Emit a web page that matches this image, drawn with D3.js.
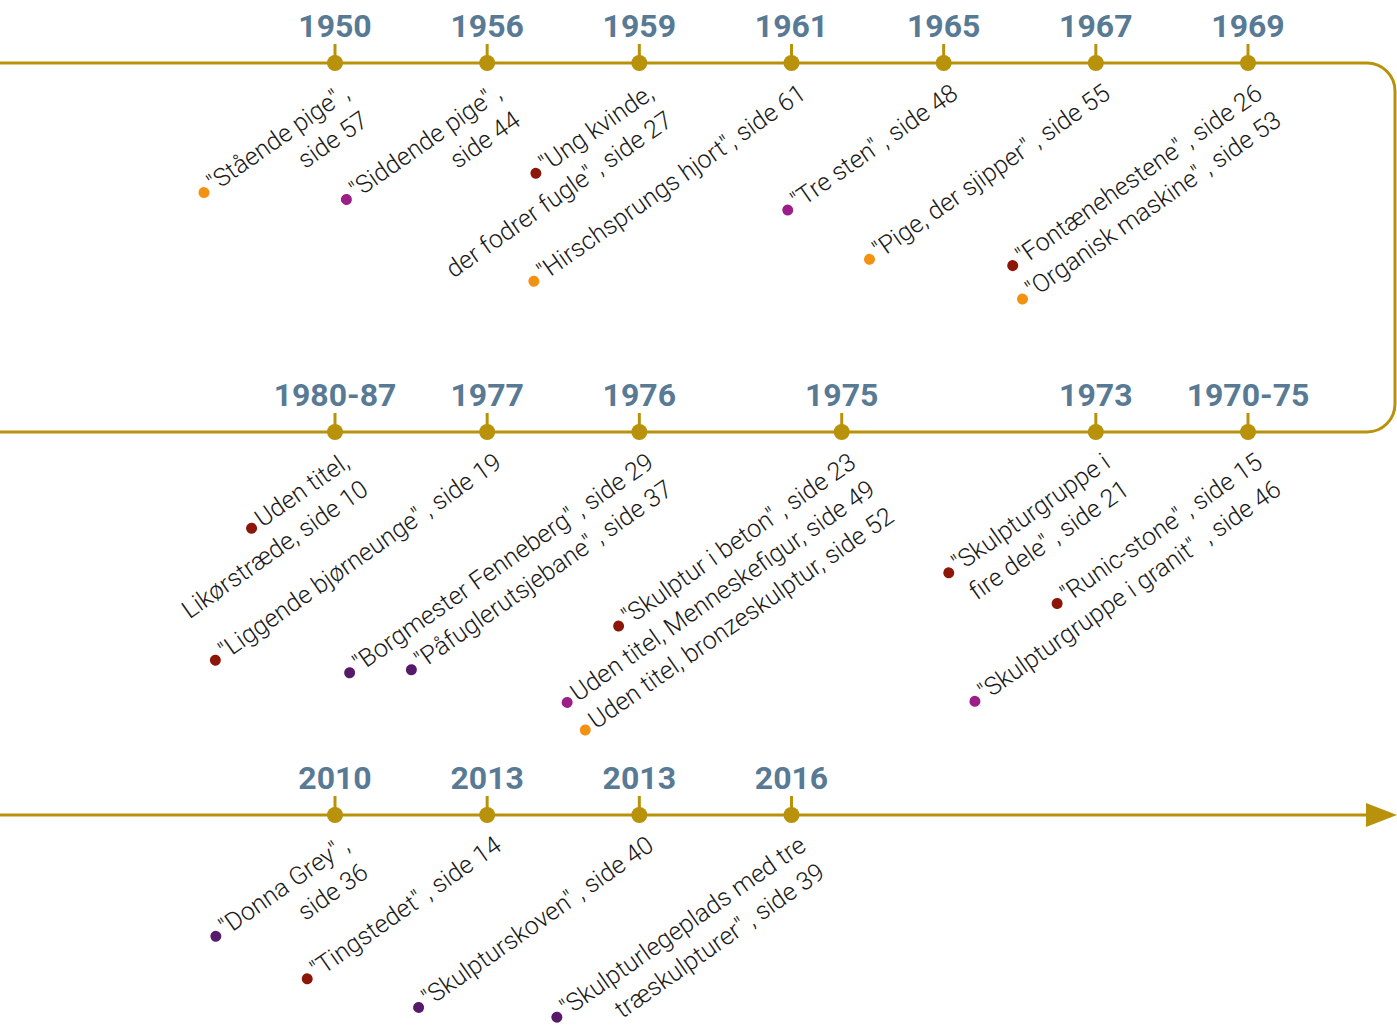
<!DOCTYPE html>
<html>
<head>
<meta charset="utf-8">
<script src="https://cdn.jsdelivr.net/npm/d3@7"></script>
<style>
  body { margin: 0; background: #fff; }
  svg { display: block; }
  .year { font-family: Roboto, sans-serif; font-weight: 700; font-size: 32px; fill: #587a95; text-anchor: middle; }
  .work { font-family: Roboto, sans-serif; font-weight: 300; font-size: 25px; fill: #1a1a1a; text-anchor: end; white-space: pre; }
</style>
</head>
<body>
<div id="main"></div>
<script>
// years on the timeline, row by row (row 1 runs right to left)
var yearLabels = ['1950', '1956', '1959', '1961', '1965', '1967', '1969',
                  '1980-87', '1977', '1976', '1975', '1973', '1970-75',
                  '2010', '2013', '2013', '2016'];
var yearRow  = [0, 0, 0, 0, 0, 0, 0, 1, 1, 1, 1, 1, 1, 2, 2, 2, 2];
var yearSlot = [0, 1, 2, 3, 4, 5, 6, 0, 1, 2, 3.33, 5, 6, 0, 1, 2, 3];

// works, each attached to a year (index into yearLabels)
var workYear = [0, 1, 2, 3, 4, 5, 6, 6,
                7, 8, 9, 9, 10, 10, 10, 11, 12, 12,
                13, 14, 15, 16];
var workTitle = [
  ['"Stående pige"\u2009,', 'side 57'],
  ['"Siddende pige"\u2009,', 'side 44'],
  ['"Ung kvinde,', 'der fodrer fugle"\u2009, side 27'],
  ['"Hirschsprungs hjort", side 61'],
  ['"Tre sten"\u2009, side 48'],
  ['"Pige, der sjipper"\u2009, side 55'],
  ['"Fontænehestene"\u2009, side 26'],
  ['"Organisk maskine"\u2009, side 53'],
  ['Uden titel,', 'Likørstræde, side 10'],
  ['"Liggende bjørneunge"\u2009, side 19'],
  ['"Borgmester Fenneberg"\u2009, side 29'],
  ['"Påfuglerutsjebane"\u2009, side 37'],
  ['"Skulptur i beton"\u2009, side 23'],
  ['Uden titel, Menneskefigur, side 49'],
  ['Uden titel, bronzeskulptur, side 52'],
  ['"Skulpturgruppe i', 'fire dele"\u2009, side 21'],
  ['"Runic-stone"\u2009, side 15'],
  ['"Skulpturgruppe i granit" \u2009, side 46'],
  ['"Donna Grey"\u2009,', 'side 36'],
  ['"Tingstedet"\u2009, side 14'],
  ['"Skulpturskoven"\u2009, side 40'],
  ['"Skulpturlegeplads med tre', 'træskulpturer"\u2009, side 39']
];
var workType = ['a', 'b', 'c', 'a', 'b', 'a', 'c', 'a',
                'c', 'c', 'd', 'd', 'c', 'b', 'a', 'c', 'c', 'b',
                'd', 'c', 'd', 'd'];

var width = 1397, height = 1036;
var lineColor = '#b8920b';
var rightEdge = 1395, corner = 28, lineStep = 33;

var x = d3.scaleLinear().domain([0, 6]).range([335, 1248]);
var y = d3.scaleOrdinal().domain([0, 1, 2]).range([63, 432, 815]);
var color = d3.scaleOrdinal()
  .domain(['a', 'b', 'c', 'd'])
  .range(['#f39112', '#9c1f87', '#8c1607', '#571a6a']);

var svg = d3.select('#main').append('svg')
    .attr('width', width)
    .attr('height', height);

// the winding line
var p = d3.path();
p.moveTo(0, y(0));
p.lineTo(rightEdge - corner, y(0));
p.arcTo(rightEdge, y(0), rightEdge, y(0) + corner, corner);
p.lineTo(rightEdge, y(1) - corner);
p.arcTo(rightEdge, y(1), rightEdge - corner, y(1), corner);
p.lineTo(0, y(1));
p.moveTo(0, y(2));
p.lineTo(1368, y(2));

svg.append('path')
  .attr('d', p.toString())
  .attr('fill', 'none')
  .attr('stroke', lineColor)
  .attr('stroke-width', 3);

svg.append('path')
  .attr('d', 'M1366,' + (y(2) - 12) + 'L1397,' + y(2) + 'L1366,' + (y(2) + 12) + 'Z')
  .attr('fill', lineColor);

// year ticks
var years = d3.range(yearLabels.length).map(function(i) {
  return { label: yearLabels[i], row: yearRow[i], slot: yearSlot[i] };
});

var tick = svg.selectAll('.tick')
  .data(years)
.enter().append('g')
  .attr('class', 'tick')
  .attr('transform', function(d) { return 'translate(' + x(d.slot) + ',' + y(d.row) + ')'; });

tick.append('line')
  .attr('y1', -19).attr('y2', 0)
  .attr('stroke', lineColor)
  .attr('stroke-width', 3);

tick.append('circle')
  .attr('r', 8)
  .attr('fill', lineColor);

tick.append('text')
  .attr('class', 'year')
  .attr('y', -26)
  .text(function(d) { return d.label; });

// work labels, stacked under each year and ending near its tick
years.forEach(function(yr, yi) {
  var g = svg.append('g')
    .attr('transform', 'translate(' + (x(yr.slot) + 16) + ',' + (y(yr.row) + 34) + ') rotate(-35)');
  var k = 0;
  workYear.forEach(function(wy, wi) {
    if (wy !== yi) return;
    var first = k, firstLen = 0;
    workTitle[wi].forEach(function(line, j) {
      var t = g.append('text')
        .attr('class', 'work')
        .attr('x', 0)
        .attr('y', k * lineStep)
        .text(line);
      if (j === 0) firstLen = t.node().getComputedTextLength();
      k++;
    });
    g.append('circle')
      .attr('cx', -firstLen - 9)
      .attr('cy', first * lineStep - 6)
      .attr('r', 5.5)
      .attr('fill', color(workType[wi]));
  });
});
</script>
</body>
</html>
